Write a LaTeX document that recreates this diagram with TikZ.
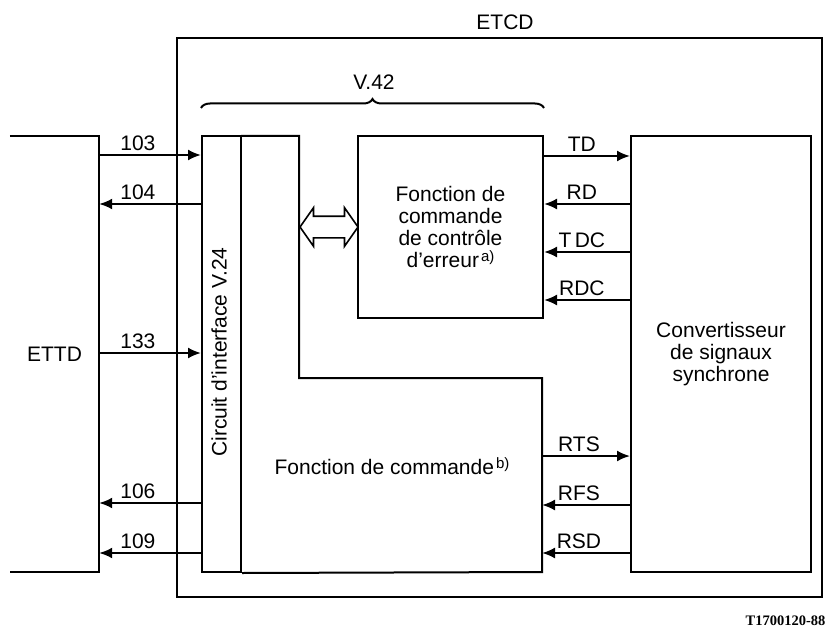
\documentclass[tikz,border=0pt]{standalone}
\usepackage{fontspec}
\setmainfont{Liberation Sans}
\newfontfamily\refserif{Liberation Serif}
\usetikzlibrary{arrows.meta, positioning, calc, shapes.arrows, decorations.pathreplacing}

\tikzset{
    blockbox/.style={draw, line width=2pt, inner sep=0pt},
    sigline/.style={-{Latex[length=13pt, width=11pt]}, line width=2pt},
    siglabel/.style={above, inner sep=3pt}
}

\begin{document}
\begin{tikzpicture}[x=1pt, y=-1pt, font=\fontsize{21}{22}\selectfont]
    \useasboundingbox (0,0) rectangle (829,631);

    % ETCD frame
    \node[blockbox, line width=2.2pt, minimum width=645, minimum height=559] (etcd) at (499.5, 317.5) {};
    \node (etcdlabel) at (505, 22) {ETCD};

    % ETTD (open on the left)
    \node[minimum width=89, minimum height=436, inner sep=0pt] (ettd) at (54.5, 354) {ETTD};
    \draw[line width=2pt] (ettd.north west) -- (ettd.north east) -- (ettd.south east) -- (ettd.south west);

    % V.24 interface column
    \node[blockbox, minimum width=39, minimum height=436] (v24) at (221.5, 354) {};
    \node[rotate=90] (v24label) at (219, 352) {Circuit d'interface V.24};

    % Control function (L shape)
    \coordinate (cmdnw) at (241, 136);
    \coordinate (cmdne) at (299, 136);
    \coordinate (cmdstep) at (299, 378);
    \coordinate (cmdcorner) at (542, 378);
    \coordinate (cmdse) at (542, 572);
    \draw[line width=2pt] (cmdnw) -- (cmdne) -- (cmdstep) -- (cmdcorner) -- (cmdse) -- (v24.south east);
    \node (cmdlabel) at (392, 466) {Fonction de commande\kern2pt\raisebox{0.55ex}{\fontsize{15}{15}\selectfont b)}};

    % Error control function
    \node[blockbox, minimum width=185, minimum height=182, align=center] (erreur) at (450.5, 227) {Fonction de\\commande\\de contrôle\\d'erreur\kern2pt\raisebox{0.55ex}{\fontsize{15}{15}\selectfont a)}};

    % Synchronous signal converter
    \node[blockbox, minimum width=180, minimum height=436, align=center] (conv) at (721, 354) {Convertisseur\\de signaux\\synchrone};

    % V.42 brace
    \draw[decorate, decoration={brace, amplitude=9pt}, line width=2pt] (v24.north west |- 0,108) -- (erreur.north east |- 0,108) coordinate[midway] (bracetip);
    \node (v42label) at (374, 82) {V.42};

    % Exchange between the two functions
    \node[double arrow, draw, line width=1.6pt, minimum height=58, minimum width=37, inner sep=10pt, double arrow head extend=8.5pt, double arrow tip angle=110] (dblarrow) at (329, 227) {};

    % Interchange circuits ETTD / ETCD
    \foreach \y/\lab in {155/103, 353/133}
        \draw[sigline] (ettd.east |- 0,\y) -- node[siglabel, pos=0.38] {\lab} (v24.west |- 0,\y);
    \foreach \y/\lab in {204/104, 503/106, 553/109}
        \draw[sigline] (v24.west |- 0,\y) -- node[siglabel, pos=0.62] {\lab} (ettd.east |- 0,\y);

    % Signals to and from the converter
    \draw[sigline] (erreur.east |- 0,156) -- node[siglabel, pos=0.44] {TD} (conv.west |- 0,156);
    \foreach \y/\lab in {204/RD, 252/T\,DC, 300/RDC}
        \draw[sigline] (conv.west |- 0,\y) -- node[siglabel, pos=0.56] {\lab} (erreur.east |- 0,\y);
    \draw[sigline] (cmdcorner |- 0,456) -- node[siglabel, pos=0.42] {RTS} (conv.west |- 0,456);
    \foreach \y/\lab in {505/RFS, 553/RSD}
        \draw[sigline] (conv.west |- 0,\y) -- node[siglabel, pos=0.58] {\lab} (cmdcorner |- 0,\y);

    % Figure reference
    \node[font=\refserif\bfseries\fontsize{14.5}{15}\selectfont, anchor=east] (figref) at (829, 621) {T1700120-88};
\end{tikzpicture}
\end{document}
